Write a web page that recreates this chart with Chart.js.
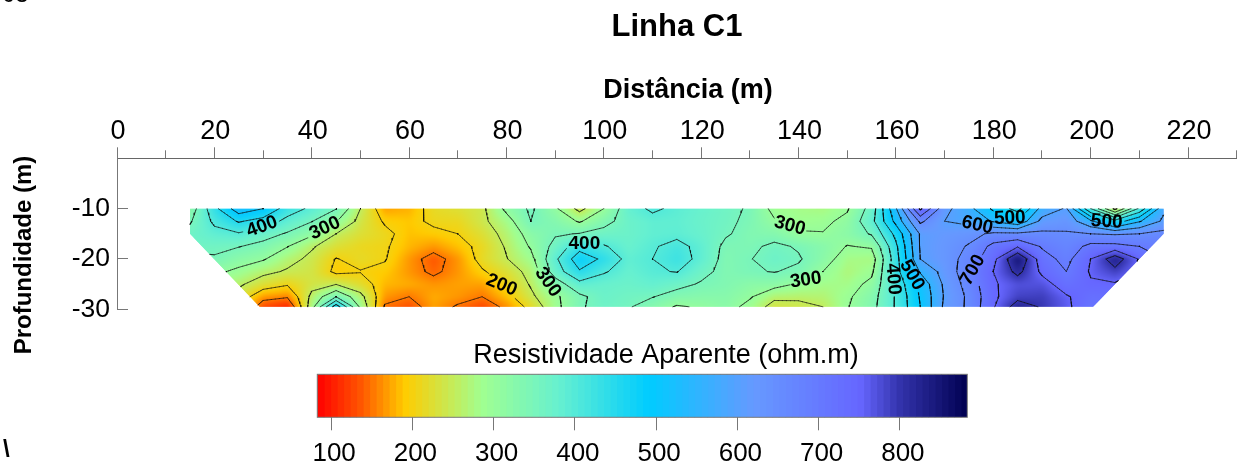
<!DOCTYPE html>
<html>
<head>
<meta charset="utf-8">
<title>Linha C1</title>
<script src="https://cdn.jsdelivr.net/npm/chart.js@4"></script>
<style>
  html, body { margin: 0; padding: 0; background: #fff; overflow: hidden; }
  canvas { position: absolute; }
  #main { left: 0; top: 0; }
  #bar { left: 290px; top: 365px; }
</style>
</head>
<body>
<canvas id="main" width="1239" height="463"></canvas>
<canvas id="bar" width="710" height="98"></canvas>
<script>
const distances = [15, 20, 25, 30, 35, 40, 45, 50, 55, 60, 65, 70, 75, 80, 85, 90, 95, 100, 105, 110, 115, 120, 125, 130, 135, 140, 145, 150, 155, 160, 165, 170, 175, 180, 185, 190, 195, 200, 205, 210, 215];
const depths = [-10, -12.5, -15, -17.5, -20, -22.5, -25, -27.5, -29.5];

// one line per distance, top to bottom (ohm.m)
const resistivity = [
  [320, 345, 365, 360, 340, 310, 280, 250, 220],
  [435, 410, 385, 360, 345, 310, 280, 250, 220],
  [530, 455, 395, 352, 320, 290, 258, 230, 210],
  [500, 430, 370, 335, 305, 262, 225, 165, 125],
  [425, 385, 345, 302, 265, 245, 205, 155, 100],
  [390, 352, 310, 255, 240, 235, 235, 262, 280],
  [352, 303, 250, 225, 198, 190, 248, 350, 480],
  [250, 235, 225, 210, 215, 198, 220, 265, 290],
  [170, 195, 210, 205, 203, 190, 180, 165, 145],
  [178, 188, 185, 180, 165, 165, 175, 150, 130],
  [215, 208, 190, 165, 135, 142, 165, 175, 170],
  [225, 210, 200, 185, 165, 165, 170, 165, 145],
  [240, 240, 225, 212, 215, 195, 170, 150, 125],
  [312, 280, 265, 255, 248, 225, 205, 185, 160],
  [358, 350, 320, 305, 285, 265, 255, 240, 215],
  [308, 330, 345, 365, 390, 375, 325, 290, 285],
  [235, 295, 352, 430, 480, 445, 385, 340, 345],
  [300, 335, 365, 405, 440, 405, 375, 370, 365],
  [380, 370, 370, 375, 385, 378, 370, 360, 355],
  [408, 385, 385, 395, 400, 395, 380, 352, 325],
  [390, 385, 388, 415, 425, 402, 365, 330, 295],
  [375, 372, 375, 385, 385, 365, 345, 325, 305],
  [362, 360, 355, 340, 335, 335, 335, 325, 320],
  [345, 340, 335, 340, 348, 345, 320, 305, 285],
  [285, 305, 330, 360, 368, 352, 318, 262, 230],
  [280, 285, 305, 345, 355, 340, 295, 260, 235],
  [275, 290, 302, 325, 320, 300, 280, 265, 250],
  [295, 312, 320, 298, 278, 270, 280, 292, 297],
  [370, 385, 355, 305, 275, 290, 312, 330, 335],
  [545, 515, 465, 440, 430, 430, 415, 405, 405],
  [760, 660, 605, 605, 600, 555, 515, 505, 500],
  [615, 600, 620, 625, 625, 620, 610, 605, 610],
  [565, 585, 632, 655, 670, 680, 670, 660, 660],
  [490, 545, 660, 715, 735, 750, 745, 740, 745],
  [430, 510, 660, 745, 850, 815, 770, 785, 825],
  [570, 615, 660, 695, 720, 740, 770, 790, 795],
  [605, 630, 655, 670, 685, 700, 725, 755, 760],
  [400, 560, 650, 715, 750, 755, 745, 725, 715],
  [235, 470, 645, 715, 830, 785, 745, 730, 720],
  [410, 545, 650, 700, 745, 740, 730, 720, 710],
  [590, 610, 665, 690, 700, 700, 700, 700, 700]
];

const outlineX = [15, 215, 215, 200.5, 29.3, 15];
const outlineY = [-10, -10, -15, -29.5, -29.5, -15];

const contourLevels = [150, 200, 250, 300, 350, 400, 450, 500, 550, 600, 650, 700, 750, 800];

const labelValues = [400, 300, 200, 300, 400, 300, 300, 400, 500, 600, 500, 500, 700];
const labelDist = [29.8, 42.7, 79, 88.5, 96, 138.2, 141.5, 159.4, 163.3, 176.7, 183.4, 203.3, 175.8];
const labelDepth = [-13.6, -13.9, -25.2, -24.6, -17, -13.4, -24.2, -24, -23.2, -13.3, -11.9, -12.6, -22.2];
const labelAngle = [-20, -25, 22, 55, 0, 15, -8, 85, 60, 12, -2, 3, -60];

const rampValues = [83, 135, 190, 285, 380, 490, 620, 750, 800, 883];
const rampColors = [[255, 0, 0], [255, 85, 0], [255, 204, 0], [160, 255, 145], [102, 240, 208], [0, 204, 255], [102, 153, 255], [102, 102, 255], [50, 50, 170], [0, 0, 80]];

const xMinorStep = 10;
const legendTicks = [100, 200, 300, 400, 500, 600, 700, 800];

const FONT = '"Liberation Sans", Arial, sans-serif';

function rampColor(v) {
  let i = 0;
  if (v <= rampValues[0]) return rampColors[0];
  if (v >= rampValues[rampValues.length - 1]) return rampColors[rampColors.length - 1];
  while (v > rampValues[i + 1]) i++;
  const t = (v - rampValues[i]) / (rampValues[i + 1] - rampValues[i]);
  return rampColors[i].map((c, k) => c + (rampColors[i + 1][k] - c) * t);
}

function sampleGrid(x, y) {
  let i = Math.floor((x - distances[0]) / 5);
  i = Math.max(0, Math.min(distances.length - 2, i));
  let j = 0;
  while (j < depths.length - 2 && y < depths[j + 1]) j++;
  const tx = Math.max(0, Math.min(1, (x - distances[i]) / 5));
  const ty = Math.max(0, Math.min(1, (y - depths[j]) / (depths[j + 1] - depths[j])));
  const a = resistivity[i][j], b = resistivity[i + 1][j];
  const c = resistivity[i + 1][j + 1], d = resistivity[i][j + 1];
  return (a * (1 - tx) + b * tx) * (1 - ty) + (d * (1 - tx) + c * tx) * ty;
}

// keep only the part of a segment that lies inside the section outline
function clipToOutline(p, q) {
  let t0 = 0, t1 = 1;
  const n = outlineX.length;
  for (let i = 0; i < n; i++) {
    const ax = outlineX[i], ay = outlineY[i];
    const bx = outlineX[(i + 1) % n], by = outlineY[(i + 1) % n];
    const nx = by - ay, ny = ax - bx;
    const f = nx * (p.x - ax) + ny * (p.y - ay);
    const g = nx * (q.x - ax) + ny * (q.y - ay);
    if (f < 0 && g < 0) return null;
    if (f < 0) t0 = Math.max(t0, f / (f - g));
    else if (g < 0) t1 = Math.min(t1, f / (f - g));
  }
  if (t0 >= t1) return null;
  return [
    { x: p.x + (q.x - p.x) * t0, y: p.y + (q.y - p.y) * t0 },
    { x: p.x + (q.x - p.x) * t1, y: p.y + (q.y - p.y) * t1 }
  ];
}

function nearLabel(level, p) {
  for (let i = 0; i < labelValues.length; i++) {
    if (labelValues[i] !== level) continue;
    const dx = (p.x - labelDist[i]) * 4.868, dy = (p.y - labelDepth[i]) * 5.03;
    if (Math.hypot(dx, dy) < 18) return true;
  }
  return false;
}

// marching squares on the read grid, gaps are NaN points
function contourData(level) {
  const out = [];
  const push = (p, q) => {
    const seg = clipToOutline(p, q);
    if (!seg) return;
    const parts = 6;
    for (let k = 0; k < parts; k++) {
      const a = { x: seg[0].x + (seg[1].x - seg[0].x) * k / parts, y: seg[0].y + (seg[1].y - seg[0].y) * k / parts };
      const b = { x: seg[0].x + (seg[1].x - seg[0].x) * (k + 1) / parts, y: seg[0].y + (seg[1].y - seg[0].y) * (k + 1) / parts };
      if (nearLabel(level, { x: (a.x + b.x) / 2, y: (a.y + b.y) / 2 })) continue;
      out.push(a, b, { x: NaN, y: NaN });
    }
  };
  for (let i = 0; i < distances.length - 1; i++) {
    for (let j = 0; j < depths.length - 1; j++) {
      const corners = [
        { x: distances[i], y: depths[j], v: resistivity[i][j] },
        { x: distances[i + 1], y: depths[j], v: resistivity[i + 1][j] },
        { x: distances[i + 1], y: depths[j + 1], v: resistivity[i + 1][j + 1] },
        { x: distances[i], y: depths[j + 1], v: resistivity[i][j + 1] }
      ];
      const cross = [];
      for (let k = 0; k < 4; k++) {
        const a = corners[k], b = corners[(k + 1) % 4];
        if ((a.v < level) !== (b.v < level)) {
          const t = (level - a.v) / (b.v - a.v);
          cross.push({ x: a.x + (b.x - a.x) * t, y: a.y + (b.y - a.y) * t });
        }
      }
      if (cross.length === 2) push(cross[0], cross[1]);
      if (cross.length === 4) { push(cross[0], cross[1]); push(cross[2], cross[3]); }
    }
  }
  return out;
}

const shadePlugin = {
  id: 'shade',
  beforeDatasetsDraw(chart) {
    const { ctx, scales: { x, y } } = chart;
    const left = Math.floor(x.getPixelForValue(distances[0]));
    const right = Math.ceil(x.getPixelForValue(distances[distances.length - 1]));
    const top = Math.floor(y.getPixelForValue(depths[0]));
    const bottom = Math.ceil(y.getPixelForValue(depths[depths.length - 1]));
    const w = right - left, h = bottom - top;
    const off = document.createElement('canvas');
    off.width = w; off.height = h;
    const octx = off.getContext('2d');
    const img = octx.createImageData(w, h);
    for (let py = 0; py < h; py++) {
      for (let px = 0; px < w; px++) {
        const c = rampColor(sampleGrid(x.getValueForPixel(left + px), y.getValueForPixel(top + py)));
        const at = (py * w + px) * 4;
        img.data[at] = c[0]; img.data[at + 1] = c[1]; img.data[at + 2] = c[2]; img.data[at + 3] = 255;
      }
    }
    octx.putImageData(img, 0, 0);
    ctx.save();
    ctx.beginPath();
    outlineX.forEach((d, i) => {
      const px = x.getPixelForValue(d), py = y.getPixelForValue(outlineY[i]);
      if (i === 0) ctx.moveTo(px, py); else ctx.lineTo(px, py);
    });
    ctx.closePath();
    ctx.clip();
    ctx.drawImage(off, left, top);
    ctx.filter = 'blur(2px)';
    ctx.drawImage(off, left, top);
    ctx.restore();
  }
};

const overlayPlugin = {
  id: 'overlay',
  afterDraw(chart) {
    const { ctx, scales: { x, y } } = chart;
    const align = p => Math.round(p - 0.5) + 0.5;
    ctx.save();
    // long ticks every 20 m
    ctx.strokeStyle = '#777';
    ctx.lineWidth = 1;
    x.ticks.forEach(t => {
      if (t.value % 20) return;
      const px = align(x.getPixelForValue(t.value));
      ctx.beginPath();
      ctx.moveTo(px, y.top - 11);
      ctx.lineTo(px, y.top - 7);
      ctx.stroke();
    });
    // depth ticks point into the plot
    [-10, -20, -30].forEach(v => {
      const py = align(y.getPixelForValue(v));
      ctx.beginPath();
      ctx.moveTo(x.left, py);
      ctx.lineTo(x.left + 11, py);
      ctx.stroke();
    });

    // contour labels
    ctx.fillStyle = '#000';
    ctx.textAlign = 'center';
    ctx.textBaseline = 'middle';
    ctx.font = 'bold 19px ' + FONT;
    labelValues.forEach((v, i) => {
      ctx.save();
      ctx.translate(x.getPixelForValue(labelDist[i]), y.getPixelForValue(labelDepth[i]));
      ctx.rotate(labelAngle[i] * Math.PI / 180);
      ctx.fillText(String(v), 0, 0);
      ctx.restore();
    });

    ctx.textBaseline = 'alphabetic';
    ctx.font = 'bold 31px ' + FONT;
    ctx.fillText('Linha C1', 677, 36);
    ctx.font = 'bold 27px ' + FONT;
    ctx.fillText('Distância (m)', 688, 98);
    ctx.font = '27px ' + FONT;
    ctx.fillText('Resistividade Aparente (ohm.m)', 666, 363);

    ctx.save();
    ctx.translate(31, 255);
    ctx.rotate(-Math.PI / 2);
    ctx.font = 'bold 24px ' + FONT;
    ctx.fillText('Profundidade (m)', 0, 0);
    ctx.restore();

    // stray bits cropped at the edge of the original picture
    ctx.textAlign = 'left';
    ctx.font = '24px ' + FONT;
    ctx.fillText('03', 2, 2);
    ctx.font = 'bold 24px ' + FONT;
    ctx.fillText('\\', 3, 457);
    ctx.restore();
  }
};

new Chart(document.getElementById('main'), {
  type: 'scatter',
  data: {
    datasets: contourLevels.map(level => ({
      label: String(level),
      data: contourData(level),
      showLine: true,
      borderColor: 'rgba(15,15,15,0.85)',
      borderWidth: 0.8,
      borderCapStyle: 'round',
      pointRadius: 0,
      tension: 0,
      spanGaps: false
    }))
  },
  options: {
    responsive: false,
    animation: false,
    devicePixelRatio: 1,
    layout: { padding: { left: 0, top: 0, right: 2.3, bottom: 153.7 } },
    plugins: { legend: { display: false }, tooltip: { enabled: false } },
    scales: {
      x: {
        type: 'linear',
        position: 'top',
        min: 0,
        max: 230,
        afterFit: s => { s.height = 158.3; s.paddingLeft = 0; s.paddingRight = 0; },
        border: { color: '#666', width: 1 },
        grid: { drawOnChartArea: false, drawTicks: true, tickLength: 8, color: '#777' },
        ticks: {
          stepSize: xMinorStep,
          autoSkip: false,
          maxRotation: 0,
          padding: 3,
          labelOffset: 1,
          color: '#000',
          font: { family: FONT, size: 27 },
          callback: v => (v % 20 === 0 && v <= 220 ? String(v) : '')
        }
      },
      y: {
        type: 'linear',
        min: -30,
        max: 0,
        afterFit: s => { s.width = 117; s.paddingTop = 0; s.paddingBottom = 0; },
        border: { color: '#777', width: 1 },
        grid: { drawOnChartArea: false, drawTicks: false },
        ticks: {
          stepSize: 10,
          padding: 7,
          color: '#000',
          font: { family: FONT, size: 26.5 },
          callback: v => (v === 0 ? '' : String(v))
        }
      }
    }
  },
  plugins: [shadePlugin, overlayPlugin]
});

// colour scale: narrow floating bars along a value axis
const bandEdges = [];
for (let v = rampValues[0]; v < rampValues[rampValues.length - 1]; v += 8) bandEdges.push(v);

const barFrame = {
  id: 'barFrame',
  afterDraw(chart) {
    const { ctx, chartArea: a } = chart;
    ctx.save();
    ctx.strokeStyle = '#777';
    ctx.lineWidth = 1;
    ctx.strokeRect(a.left, a.top, a.right - a.left, a.bottom - a.top);
    ctx.restore();
  }
};

new Chart(document.getElementById('bar'), {
  type: 'bar',
  data: {
    labels: [''],
    datasets: bandEdges.map(v => {
      const c = rampColor(v + 4).map(Math.round);
      return {
        data: [[v, Math.min(v + 8.6, rampValues[rampValues.length - 1])]],
        backgroundColor: `rgb(${c[0]},${c[1]},${c[2]})`,
        borderWidth: 0,
        grouped: false,
        barPercentage: 1,
        categoryPercentage: 1
      };
    })
  },
  options: {
    indexAxis: 'y',
    responsive: false,
    animation: false,
    devicePixelRatio: 1,
    layout: { padding: { left: 27.3, top: 9.3, right: 32.7, bottom: 0 } },
    plugins: { legend: { display: false }, tooltip: { enabled: false } },
    scales: {
      x: {
        type: 'linear',
        min: rampValues[0],
        max: rampValues[rampValues.length - 1],
        afterFit: s => { s.height = 45.7; s.paddingLeft = 0; s.paddingRight = 0; },
        afterBuildTicks: s => { s.ticks = legendTicks.map(v => ({ value: v })); },
        border: { display: false },
        grid: { drawOnChartArea: false, tickLength: 13, color: '#777' },
        ticks: {
          autoSkip: false,
          maxRotation: 0,
          padding: 8,
          labelOffset: 3,
          color: '#000',
          font: { family: FONT, size: 26 }
        }
      },
      y: { display: false, offset: true }
    }
  },
  plugins: [barFrame]
});
</script>
</body>
</html>
